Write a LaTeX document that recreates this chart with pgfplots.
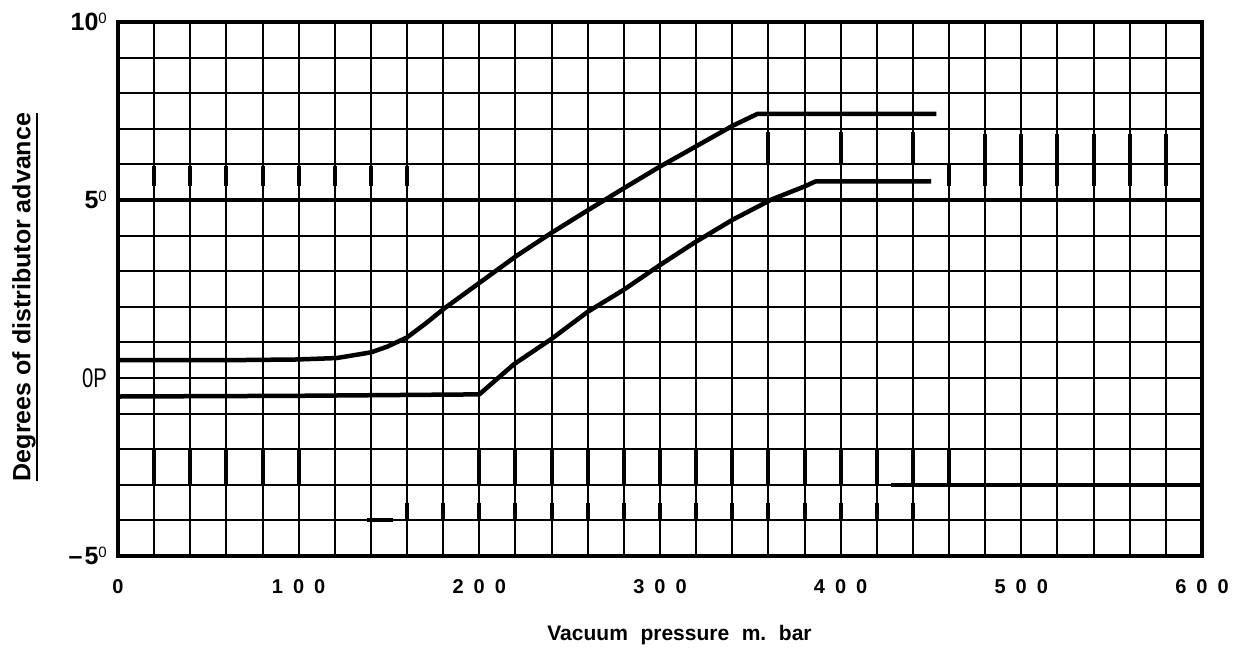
\documentclass[border=0pt]{standalone}
\usepackage{fontspec}
\setmainfont{Liberation Sans}
\usepackage{graphicx}
\usepackage{pgfplots}
\pgfplotsset{compat=1.18}
\newcommand\xt[3]{#1\hspace{0.5em}#2\hspace{0.5em}#3}
\newcommand\dg{\raisebox{7pt}{\fontsize{15}{15}\selectfont\mdseries 0}}
\newcommand\ulbox[1]{\setbox0\hbox{#1}\rlap{\raisebox{-8pt}{\rule{\wd0}{2.2pt}}}\box0}
\begin{document}
\begin{tikzpicture}
\begin{axis}[
  at={(0,0)}, anchor=south west,
  scale only axis, width=1084pt, height=534pt,
  xmin=0, xmax=600, ymin=-5, ymax=10,
  xtick={0,100,...,600}, minor x tick num=4,
  ytick={-5,0,5,10}, minor y tick num=4,
  grid=both,
  major grid style={black, line width=2pt},
  minor grid style={black, line width=2pt},
  major tick length=0pt, minor tick length=0pt,
  axis line style={black, line width=3.2pt},
  xticklabels={0,\xt100,\xt200,\xt300,\xt400,\xt500,\xt600},
  yticklabels={{\fontsize{25}{25}\selectfont\bfseries --\hspace{2pt}5\dg},
               {\scalebox{0.75}[1]{\fontsize{27}{27}\selectfont\mdseries 0P}},
               {\fontsize{25}{25}\selectfont\bfseries 5\dg},
               {\fontsize{25}{25}\selectfont\bfseries 10\dg}},
  xticklabel style={font=\fontsize{20}{20}\selectfont\bfseries, anchor=north, inner sep=0pt, yshift=-23pt},
  yticklabel style={anchor=east, inner sep=0pt, xshift=-11pt},
  xlabel={Vacuum\hspace{0.6em}pressure\hspace{0.6em}m.\hspace{0.6em}bar},
  xlabel style={font=\fontsize{21}{21}\selectfont\bfseries, at={(axis description cs:0.518,-0.1292)}, anchor=north, inner sep=0pt},
  ylabel={\ulbox{Degrees of distributor advance}},
  ylabel style={font=\fontsize{25}{25}\selectfont\bfseries, at={(axis description cs:-0.0733,0.485)}, anchor=south, inner sep=0pt},
  unbounded coords=jump,
]
% heavier printed segments of the grid
\addplot[black, line width=4.5pt] coordinates {(0,5) (600,5)};
\addplot[black, line width=4pt] coordinates {(428,-3) (600,-3)};
\addplot[black, line width=4pt] coordinates {(138,-4) (152,-4)};
\addplot[black, line width=4pt] coordinates {
 (20,5.4) (20,5.95) (20,nan) (40,5.4) (40,5.95) (40,nan) (60,5.4) (60,5.95) (60,nan)
 (80,5.4) (80,5.95) (80,nan) (100,5.4) (100,5.95) (100,nan) (120,5.4) (120,5.95) (120,nan)
 (140,5.4) (140,5.95) (140,nan) (160,5.4) (160,5.95) (160,nan)
 (360,6.0) (360,6.9) (360,nan) (400,6.0) (400,6.9) (400,nan) (440,6.0) (440,6.9) (440,nan)
 (460,5.4) (460,6.0) (460,nan)
 (480,5.4) (480,6.85) (480,nan) (500,5.4) (500,6.85) (500,nan) (520,5.4) (520,6.85) (520,nan)
 (540,5.4) (540,6.85) (540,nan) (560,5.4) (560,6.85) (560,nan) (580,5.4) (580,6.85) (580,nan)
 (160,-3.5) (160,-4) (160,nan) (180,-3.5) (180,-4) (180,nan) (200,-3.5) (200,-4) (200,nan)
 (220,-3.5) (220,-4) (220,nan) (240,-3.5) (240,-4) (240,nan) (260,-3.5) (260,-4) (260,nan)
 (280,-3.5) (280,-4) (280,nan) (300,-3.5) (300,-4) (300,nan) (320,-3.5) (320,-4) (320,nan)
 (340,-3.5) (340,-4) (340,nan) (360,-3.5) (360,-4) (360,nan) (380,-3.5) (380,-4) (380,nan)
 (400,-3.5) (400,-4) (400,nan) (420,-3.5) (420,-4) (420,nan) (440,-3.5) (440,-4) (440,nan)
 (20,-2) (20,-3) (20,nan) (40,-2) (40,-3) (40,nan) (60,-2) (60,-3) (60,nan)
 (80,-2) (80,-3) (80,nan) (100,-2) (100,-3) (100,nan)
 (200,-2) (200,-3) (200,nan) (220,-2) (220,-3) (220,nan) (240,-2) (240,-3) (240,nan)
 (260,-2) (260,-3) (260,nan) (280,-2) (280,-3) (280,nan) (300,-2) (300,-3) (300,nan)
 (320,-2) (320,-3) (320,nan) (340,-2) (340,-3) (340,nan) (360,-2) (360,-3) (360,nan)
 (380,-2) (380,-3) (380,nan) (400,-2) (400,-3) (400,nan) (420,-2) (420,-3) (420,nan)
 (440,-2) (440,-3) (440,nan) (460,-2) (460,-3)
};
% upper advance curve
\addplot[black, line width=4.5pt, line join=round] coordinates {
 (0,0.5) (60,0.5) (99,0.52) (121,0.56) (140,0.72) (149,0.88) (160,1.14) (170,1.52)
 (180.5,1.95) (200,2.67) (220,3.41) (240,4.08) (260,4.71) (280,5.33) (299,5.91)
 (319,6.48) (340,7.08) (354,7.42) (453,7.42)
};
% lower advance curve
\addplot[black, line width=4.5pt, line join=round] coordinates {
 (0,-0.52) (100,-0.5) (200,-0.46) (219,0.38) (240,1.1) (260,1.86) (280,2.48)
 (299,3.14) (319,3.8) (340,4.44) (362,5.02) (380,5.38) (386,5.52) (450,5.52)
};
\end{axis}
\pgfresetboundingbox
\path[use as bounding box] (-118pt,-94pt) rectangle (1120pt,556pt);
\end{tikzpicture}
\end{document}
